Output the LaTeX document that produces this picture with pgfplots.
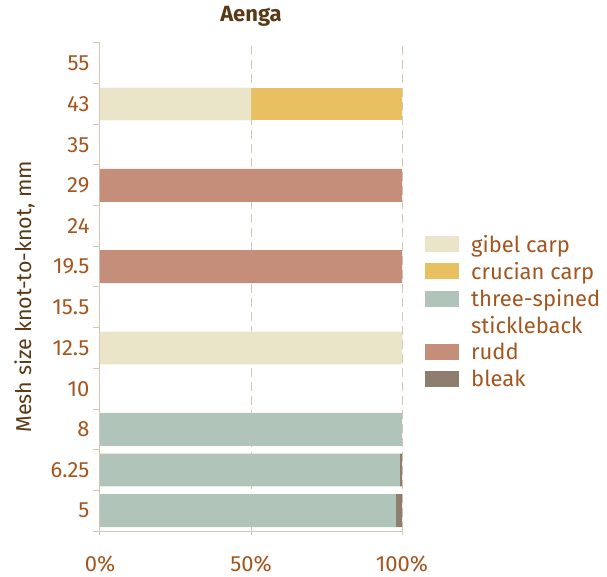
\documentclass[border=0pt]{standalone}
\usepackage{pgfplots}
\pgfplotsset{compat=1.18}
\usepackage{fontspec}
\setmainfont{Fira Sans}

\definecolor{gibel}{HTML}{EAE5C8}
\definecolor{crucian}{HTML}{E8C062}
\definecolor{stickle}{HTML}{B0C4B9}
\definecolor{rudd}{HTML}{C48E7A}
\definecolor{bleak}{HTML}{8E7E6E}
\definecolor{labc}{HTML}{A4561F}
\definecolor{darkc}{HTML}{5A3A16}
\definecolor{axc}{HTML}{D5C8B3}

\begin{document}
\begin{tikzpicture}
\useasboundingbox (-100pt,-45pt) rectangle (507pt,531pt);
\begin{axis}[
  at={(0,0)}, anchor=south west,
  scale only axis,
  width=302pt, height=488pt,
  xbar stacked, bar width=0.81,
  xmin=0, xmax=100,
  ymin=-0.5, ymax=11.5,
  xtick={0,50,100},
  xticklabels={0\%,50\%,100\%},
  ytick={-0.5,0.5,...,11.5},
  yticklabels={},
  extra y ticks={0,...,11},
  extra y tick labels={5,6.25,8,10,12.5,15.5,19.5,24,29,35,43,55},
  extra y tick style={major tick length=0pt},
  major tick length=7pt,
  ytick align=outside, xtick align=center,
  axis x line*=bottom, axis y line*=left,
  axis line style={axc, line width=1pt},
  tick style={axc, line width=1pt},
  xmajorgrids,
  grid style={axc, line width=1pt, dash pattern=on 9pt off 5pt},
  tick label style={font=\fontsize{22}{26}\selectfont, text=labc},
  yticklabel style={xshift=-7pt},
  xticklabel style={anchor=base, inner sep=0pt, yshift=-37pt},
  title={\textbf{Aenga}},
  title style={font=\fontsize{22}{26}\selectfont, text=darkc, at={(axis description cs:0.5,1.042)}, anchor=center},
  ylabel={Mesh size knot-to-knot, mm},
  every axis y label/.style={at={(axis description cs:-0.25,0.48)}, anchor=center, rotate=90, font=\fontsize{21.5}{26}\selectfont, text=darkc},
  legend style={at={(axis description cs:1,0.45)}, anchor=west, xshift=20pt, draw=none, fill=none,
    font=\fontsize{22}{26}\selectfont, text=labc,
    row sep=4.4pt, column sep=10pt},
  legend cell align=left,
  legend image code/.code={\fill[#1] (0pt,-8pt) rectangle (34pt,8pt);},
]
\addplot[fill=gibel, draw=none] coordinates {
  (0,0) (0,1) (0,2) (0,3) (100,4) (0,5) (0,6) (0,7) (0,8) (0,9) (50,10) (0,11)};
\addlegendentry{gibel carp}
\addplot[fill=crucian, draw=none] coordinates {
  (0,0) (0,1) (0,2) (0,3) (0,4) (0,5) (0,6) (0,7) (0,8) (0,9) (50,10) (0,11)};
\addlegendentry{crucian carp}
\addplot[fill=stickle, draw=none] coordinates {
  (98,0) (99.3,1) (100,2) (0,3) (0,4) (0,5) (0,6) (0,7) (0,8) (0,9) (0,10) (0,11)};
\addlegendentry{three-spined}
\addlegendimage{empty legend}
\addlegendentry{stickleback}
\addplot[fill=rudd, draw=none] coordinates {
  (0,0) (0,1) (0,2) (0,3) (0,4) (0,5) (100,6) (0,7) (100,8) (0,9) (0,10) (0,11)};
\addlegendentry{rudd}
\addplot[fill=bleak, draw=none] coordinates {
  (2,0) (0.7,1) (0,2) (0,3) (0,4) (0,5) (0,6) (0,7) (0,8) (0,9) (0,10) (0,11)};
\addlegendentry{bleak}
\end{axis}
\end{tikzpicture}
\end{document}
